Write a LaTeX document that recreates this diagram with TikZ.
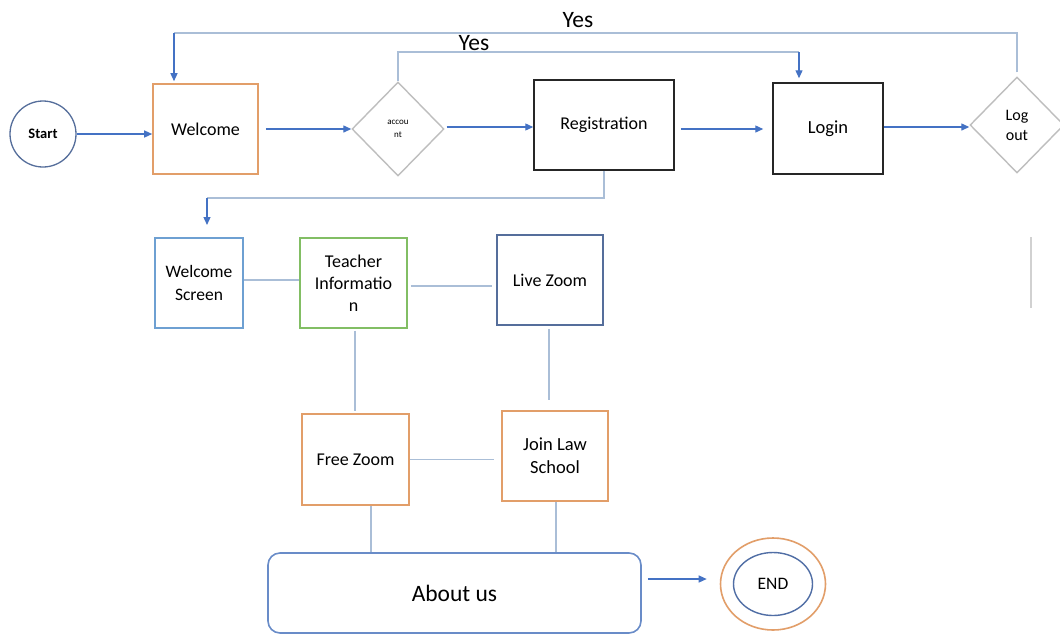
\documentclass[tikz,border=0pt]{standalone}
\usepackage{fontspec}
\setmainfont{Carlito}
\usetikzlibrary{shapes.geometric,arrows.meta,calc}
\definecolor{arrowblue}{RGB}{68,114,196}
\definecolor{lightconn}{RGB}{170,190,215}
\definecolor{boxorange}{RGB}{226,158,105}
\definecolor{diagray}{RGB}{190,190,190}
\definecolor{skyblue}{RGB}{110,160,210}
\definecolor{leafgreen}{RGB}{130,190,100}
\definecolor{slateblue}{RGB}{85,110,155}
\definecolor{aboutblue}{RGB}{105,140,200}
\definecolor{inkblue}{RGB}{80,110,165}
\tikzset{
  fs/.style 2 args={font=\fontsize{#1}{#2}\selectfont},
  boxbase/.style={rectangle, draw, line width=1.6pt, align=center, inner sep=2pt, text=black},
  flowarrow/.style={draw=arrowblue, line width=1.3pt, -{Triangle[length=8pt,width=7pt]}},
  conn/.style={draw=lightconn, line width=1.2pt},
  dia/.style={diamond, draw=diagray, line width=1.4pt, align=center, inner sep=0pt},
}
\begin{document}
\begin{tikzpicture}[x=1pt,y=-1pt]
\useasboundingbox[fill=white] (0,0) rectangle (1060,633);

% top row
\node[circle, draw=slateblue, line width=1.3pt, minimum size=66pt, inner sep=0pt, fs={14.5}{17}] (start) at (43,134) {\textbf{Start}};
\node[boxbase, draw=boxorange, minimum width=105pt, minimum height=90pt, fs={18}{21}] (welcome) at (205.5,129) {Welcome};
\node[dia, minimum width=92pt, minimum height=94pt, fs={9}{13}] (account) at (398,129) {accou\\nt};
\node[boxbase, draw=black!85, line width=1.5pt, minimum width=140pt, minimum height=90pt, fs={18}{21}] (reg) at (604,125) {Registration};
\node[boxbase, draw=black!85, line width=1.5pt, minimum width=110pt, minimum height=91pt, fs={18.5}{21}] (login) at (828,128.5) {Login};
\node[dia, minimum width=94pt, minimum height=96pt, fs={16}{20}] (logout) at (1017,125) {Log\\out};

% second row
\node[boxbase, draw=skyblue, minimum width=88pt, minimum height=90pt, fs={17.5}{23}] (wscreen) at (199,283) {Welcome\\Screen};
\node[boxbase, draw=leafgreen, minimum width=107pt, minimum height=90pt, fs={18}{22}] (teacher) at (353.5,283) {Teacher\\Informatio\\n};
\node[boxbase, draw=slateblue, minimum width=106pt, minimum height=90pt, fs={18}{22}] (live) at (550,280) {Live Zoom};

% third row
\node[boxbase, draw=boxorange, minimum width=107pt, minimum height=91pt, fs={18}{22}] (free) at (355.5,459.5) {Free Zoom};
\node[boxbase, draw=boxorange, minimum width=106pt, minimum height=90pt, fs={18.5}{23}] (join) at (555,456) {Join Law\\School};

% bottom
\node[rectangle, rounded corners=12pt, draw=aboutblue, line width=1.6pt, minimum width=373pt, minimum height=80pt, fs={23.5}{27}] (about) at (454.5,593) {About us};
\node[ellipse, draw=boxorange, line width=1.6pt, minimum width=105pt, minimum height=92pt, inner sep=0pt] (endo) at (773,584) {};
\node[ellipse, draw=inkblue, line width=1.4pt, minimum width=79pt, minimum height=63pt, inner sep=0pt, fs={17.5}{20}] (endi) at (773,584) {END};

% labels
\node[fs={23.5}{26}] (yesA) at (578,20) {Yes};
\node[fs={23.5}{26}] (yesB) at (474,43) {Yes};

% coordinates
\coordinate (yes1) at (174,33);
\coordinate (yes2) at (799,52);
\coordinate (r1) at (604,198);
\coordinate (r2) at (207,198);
\coordinate (r3) at (207,225);
\coordinate (lv1) at (1031,237);
\coordinate (lv2) at (1031,308);

% main flow arrows
\draw[flowarrow] (start.east) -- (start.east -| welcome.west);
\draw[flowarrow, shorten <=7pt] (welcome.east) -- (account.west);
\draw[flowarrow, shorten <=2pt] ([yshift=2pt]account.east) -- ([yshift=2pt]account.east -| reg.west);
\draw[flowarrow, shorten <=6pt, shorten >=9pt] ([yshift=-4pt]reg.east) -- ([yshift=-4pt]reg.east -| login.west);
\draw[flowarrow] ([yshift=1.5pt]login.east) -- ([yshift=1.5pt]login.east -| logout.west);

% yes loops
\draw[conn] ([yshift=4pt]logout.north) |- (yes1);
\draw[flowarrow] (yes1) -- ([yshift=2pt]yes1 |- welcome.north);
\draw[conn] (account.north) |- (yes2);
\draw[flowarrow] (yes2) -- ([yshift=4pt]yes2 |- login.north);

% registration down to welcome screen
\draw[conn] (reg.south) -- (r1) -- (r2);
\draw[flowarrow] (r2) -- (r3);

% grid connections
\draw[conn] ([yshift=3pt]wscreen.east) -- ([yshift=3pt]teacher.west);
\draw[conn, shorten <=3pt, shorten >=4pt] ([yshift=-3pt]teacher.east) -- ([yshift=-3pt]teacher.east -| live.west);
\draw[conn, shorten <=2pt, shorten >=2pt] ([xshift=1.5pt]teacher.south) -- ([xshift=1.5pt]teacher.south |- free.north);
\draw[conn, shorten <=3pt, shorten >=10pt] ([xshift=-1pt]live.south) -- ([xshift=-1pt]live.south |- join.north);
\draw[conn, shorten >=7pt] (free.east) -- (free.east -| join.west);
\draw[conn] ([xshift=15.5pt]free.south) -- ([xshift=15.5pt]free.south |- about.north);
\draw[conn] ([xshift=1pt]join.south) -- ([xshift=1pt]join.south |- about.north);

% about to end
\draw[flowarrow, shorten <=6pt, shorten >=13pt] ([yshift=14pt]about.east) -- ([yshift=14pt]about.east -| endo.west);

% lone line
\draw[draw=diagray!70, line width=1.2pt] (lv1) -- (lv2);
\end{tikzpicture}
\end{document}
